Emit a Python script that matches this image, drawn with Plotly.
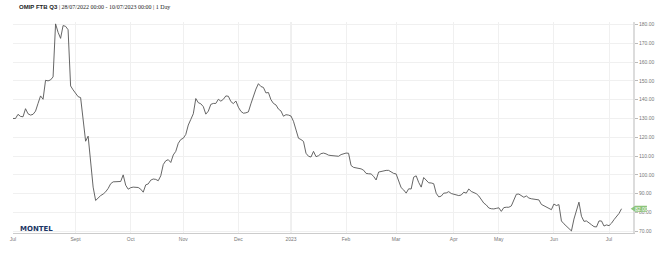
import pandas as pd
import plotly.graph_objects as go

# ---- data (one value per trading day) ----
start_date = "2022-07-28"
end_date = "2023-07-10"
holidays = ["2022-12-26", "2023-04-07", "2023-04-10", "2023-05-01"]

prices = [
    130.0, 130.0, 132.2, 131.1, 130.9, 135.2, 132.5, 131.8, 132.2, 133.9,
    138.0, 142.0, 140.2, 150.3, 150.0, 150.5, 152.1, 180.3, 175.8, 172.6,
    179.4, 179.0, 177.2, 147.3, 145.2, 143.4, 141.6, 141.1, 129.5, 117.9,
    120.6, 108.0, 93.5, 86.4, 88.0, 89.0, 89.8, 91.0, 92.8, 95.3,
    96.3, 96.4, 96.4, 96.5, 100.0, 94.5, 92.4, 93.2, 93.5, 93.6,
    93.3, 92.4, 90.8, 94.7, 95.2, 97.2, 97.8, 97.6, 96.9, 99.5,
    105.5, 107.5, 108.1, 106.6, 110.6, 112.5, 116.8, 118.8, 119.5, 121.5,
    126.5, 129.5, 132.5, 140.6, 138.4, 137.8, 136.3, 132.3, 133.9, 137.5,
    138.0, 138.0, 140.2, 139.2, 140.2, 142.0, 141.8, 139.0, 137.9, 139.3,
    136.0, 133.8, 132.8, 133.0, 133.5, 137.8, 142.0, 145.6, 148.5, 147.0,
    146.5, 143.6, 143.8, 140.0, 138.0, 137.2, 135.0, 134.0, 131.2, 132.0,
    131.8, 131.3, 128.5, 124.0, 119.5, 118.8, 117.8, 111.5, 109.9, 109.5,
    112.5, 109.7, 110.2, 111.3, 111.6, 111.2, 110.5, 110.3, 110.2, 110.0,
    109.9, 110.8, 111.4, 111.6, 111.5, 105.0, 104.0, 103.8, 103.4, 103.2,
    102.5, 100.8, 100.6, 100.5, 99.2, 97.3, 101.5, 101.9, 102.3, 102.4,
    102.4, 101.4, 100.8, 100.5, 96.5, 93.2, 92.0, 90.3, 92.6, 92.5,
    98.8, 99.5, 96.0, 93.5, 98.6, 97.0, 95.8, 95.7, 95.3, 90.2,
    88.3, 88.7, 90.3, 90.4, 91.1, 90.1, 89.8, 89.6, 89.0, 89.3,
    90.8, 90.3, 92.5, 91.2, 90.7, 90.0, 88.8, 86.5, 85.0, 84.0,
    82.4, 82.0, 81.9, 82.2, 82.5, 80.6, 82.6, 82.8, 82.8, 83.5,
    86.5, 89.7, 89.8, 89.0, 88.1, 88.8, 87.7, 87.3, 87.0, 86.8,
    86.7, 84.3, 83.5, 82.8, 82.0, 81.5, 84.5, 83.7, 84.2, 75.5,
    74.0, 72.8, 71.6, 70.2, 76.5, 81.0, 85.5, 78.0, 75.3, 75.5,
    74.7, 73.5, 72.5, 72.3, 75.5, 75.5, 72.8, 73.4, 73.0, 74.3,
    76.2, 77.8, 79.5, 82.0,
]

tick_dates = ["2022-07-28", "2022-09-01", "2022-10-03", "2022-11-01", "2022-12-01",
              "2023-01-02", "2023-02-01", "2023-03-01", "2023-04-03", "2023-05-02",
              "2023-06-01", "2023-07-03"]
tick_labels = ["Jul", "Sept", "Oct", "Nov", "Dec", "2023", "Feb", "Mar", "Apr",
               "May", "Jun", "Jul"]
y_ticks = [70, 80, 90, 100, 110, 120, 130, 140, 150, 160, 170, 180]
last_value = 82.0
title_main = "OMIP FTB Q3"
title_rest = "| 28/07/2022 00:00 - 10/07/2023 00:00 | 1 Day"

# trading-day calendar (weekdays minus exchange holidays)
days = pd.bdate_range(start_date, end_date)
days = days[~days.isin(pd.to_datetime(holidays))]

fig = go.Figure()
fig.add_trace(go.Scatter(
    x=days, y=prices, mode="lines",
    line=dict(color="#555555", width=0.9),
    hoverinfo="skip", showlegend=False,
))

fig.update_layout(
    width=659, height=257,
    margin=dict(l=13, r=26, t=22, b=24, autoexpand=False),
    paper_bgcolor="white", plot_bgcolor="white",
    font=dict(family="Liberation Sans, Arial, sans-serif", size=5, color="#666666"),
    showlegend=False,
)

fig.update_xaxes(
    type="date", automargin=False,
    range=["2022-07-28", "2023-07-14 14:00"],
    rangebreaks=[dict(bounds=["sat", "mon"]), dict(values=holidays)],
    tickmode="array", tickvals=tick_dates, ticktext=tick_labels,
    showgrid=True, gridcolor="#f0f0f0", gridwidth=1,
    showline=True, linecolor="#cccccc", linewidth=1,
    ticks="", ticklabelstandoff=1,
    tickfont=dict(size=5, color="#777777"),
    zeroline=False,
)

fig.update_yaxes(
    range=[69.1, 181.3], automargin=False,
    side="right",
    tickmode="array", tickvals=y_ticks, tickformat=".2f",
    showgrid=True, gridcolor="#f0f0f0", gridwidth=1,
    showline=True, linecolor="#dcdcdc", linewidth=2,
    ticks="outside", ticklen=3, tickcolor="#bbbbbb", tickwidth=1,
    tickfont=dict(size=5, color="#777777"),
    zeroline=False,
)

# darker year boundary gridline
fig.add_shape(type="line", xref="x", yref="paper",
              x0="2023-01-02", x1="2023-01-02", y0=0, y1=1,
              line=dict(color="#dddddd", width=1), layer="below")

# last value tag
fig.add_shape(type="path", xref="paper", yref="y",
              path=("M 0.9963,%f L 1.0035,%f L 1.0225,%f L 1.0225,%f L 1.0035,%f Z"
                    % (last_value, last_value + 1.6, last_value + 1.6,
                       last_value - 1.6, last_value - 1.6)),
              fillcolor="#8cc47a", line=dict(width=0), layer="above")
fig.add_annotation(xref="paper", yref="y", x=1.013, y=last_value,
                   text="%.2f" % last_value, showarrow=False,
                   font=dict(size=5, color="white"), xanchor="center", yanchor="middle")

# title
fig.add_annotation(
    xref="paper", yref="paper", x=(17 - 13) / 620, y=1 + (22 - 7) / 211,
    xanchor="left", yanchor="middle", showarrow=False,
    text=("<b>%s</b> <span style='font-family:Liberation Serif, DejaVu Serif, serif'>%s</span>"
          % (title_main, title_rest)),
    font=dict(size=6, color="#222222", family="Liberation Sans, Arial, sans-serif"),
)

# logo
fig.add_annotation(
    xref="paper", yref="paper", x=(18 - 13) / 620, y=(233 - 229) / 211,
    xanchor="left", yanchor="middle", showarrow=False,
    text="<b>MONTEL</b>",
    font=dict(size=7, color="#1b3565", family="DejaVu Sans, sans-serif"),
)

fig.write_html("out.html", config={"displayModeBar": False},
               post_script="document.body.style.margin='0';document.body.style.padding='0';")
